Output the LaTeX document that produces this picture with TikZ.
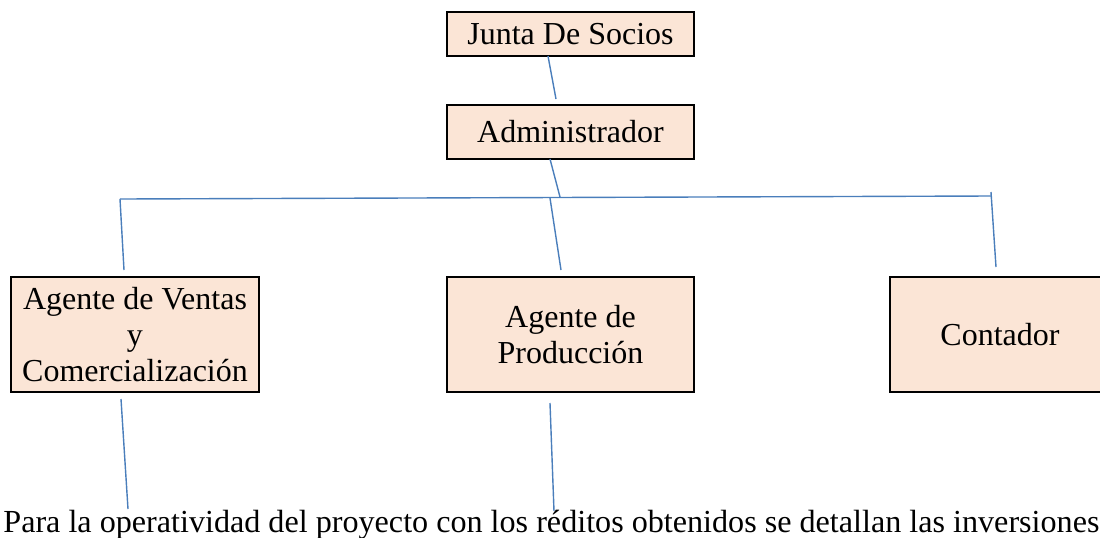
\documentclass[tikz,border=0pt]{standalone}
\usepackage{fontspec}
\setmainfont{Liberation Serif}
\definecolor{boxfill}{HTML}{FBE5D6}
\definecolor{linkblue}{HTML}{4A7EBB}
\tikzset{
  orgbox/.style={draw=black, line width=1pt, fill=boxfill, inner sep=0pt,
    align=center, font=\fontsize{16}{19}\selectfont},
  link/.style={draw=linkblue, line width=0.7pt},
}
\begin{document}
\begin{tikzpicture}[x=0.5pt, y=-0.5pt]
\useasboundingbox (0,0) rectangle (1100,537);
% boxes
\node[orgbox, minimum width=123.5pt, minimum height=22pt] (junta) at (570.5,34) {Junta De Socios};
\node[orgbox, minimum width=123.5pt, minimum height=27pt] (admin) at (570.5,132) {Administrador};
\node[orgbox, minimum width=124pt, minimum height=57.5pt] (ventas) at (135,334.5) {Agente de Ventas\\[-0.8pt] y\\[-0.8pt] Comercialización};
\node[orgbox, minimum width=123.5pt, minimum height=57.5pt] (prod) at (570.5,334.5) {Agente de\\[-0.8pt] Producción};
\node[orgbox, minimum width=120pt, minimum height=57.5pt, anchor=west] (cont) at (889,334.5) {\hspace*{-10pt}Contador};
% free line end points
\coordinate (j1) at (548,56);
\coordinate (a1) at (556,99);
\coordinate (a2) at (550,159);
\coordinate (h0) at (560,197);
\coordinate (hl) at (120,199);
\coordinate (hr) at (991,196);
\coordinate (hrt) at (991,192);
\coordinate (v1) at (124,270);
\coordinate (m1) at (550,198);
\coordinate (m2) at (561,270);
\coordinate (r1) at (996,267);
\coordinate (b1) at (121,399);
\coordinate (b2) at (128,509);
\coordinate (c1) at (550,403);
\coordinate (c2) at (554,511);
% connectors
\draw[link] (j1) -- (a1);
\draw[link] (a2) -- (h0);
\draw[link] (hl) -- (hr);
\draw[link] (hl) -- (v1);
\draw[link] (m1) -- (m2);
\draw[link] (hrt) -- (r1);
\draw[link] (b1) -- (b2);
\draw[link] (c1) -- (c2);
% text
\node[anchor=base west, inner sep=0pt, font=\fontsize{16.07}{19}\selectfont] (para) at (3,532) {Para la operatividad del proyecto con los réditos obtenidos se detallan las inversiones};
\end{tikzpicture}
\end{document}
